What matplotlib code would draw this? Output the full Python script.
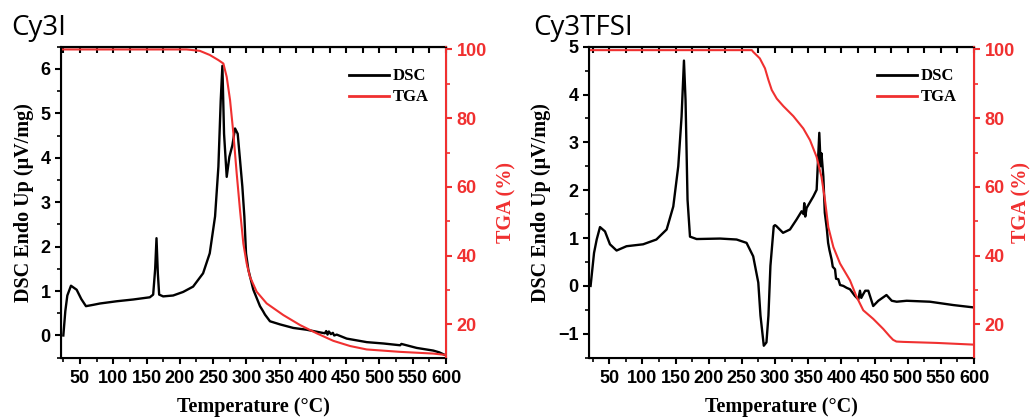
import matplotlib
matplotlib.use("Agg")
import matplotlib.pyplot as plt
from matplotlib.ticker import MultipleLocator
from matplotlib.font_manager import FontProperties

# Cy3I
t_dsc_i = [25, 28, 31, 36.5, 45, 52, 59, 70, 80, 105, 130, 155, 160, 163, 165, 167, 169,
           175, 190, 205, 220, 235, 245, 253, 258, 261.5, 264, 266.5, 270.5, 274.5, 279,
           283, 287, 290.5, 294, 297, 299.5, 303, 310.5, 320.5, 325, 328, 335.5, 350.5,
           370.5, 390.5, 410.5, 418, 420, 422, 424, 427, 430, 432, 435.8, 450.8, 481, 506,
           531, 533, 556, 581, 590, 600]
dsc_i = [0.0, 0.55, 0.9, 1.12, 1.03, 0.82, 0.66, 0.69, 0.72, 0.77, 0.81, 0.86, 0.92, 1.5,
         2.19, 1.4, 0.92, 0.88, 0.9, 0.98, 1.1, 1.4, 1.85, 2.68, 3.8, 5.29, 6.07, 4.54,
         3.57, 4.02, 4.28, 4.66, 4.54, 3.95, 3.35, 2.68, 1.85, 1.48, 1.03, 0.66, 0.55,
         0.47, 0.32, 0.25, 0.17, 0.13, 0.07, 0.05, 0.1, 0.02, 0.09, 0.03, 0.06, 0.0, 0.02,
         -0.07, -0.15, -0.18, -0.22, -0.19, -0.28, -0.34, -0.38, -0.45]
t_tga_i = [21.5, 210, 230, 245, 258, 265.5, 270.5, 275.5, 280.5, 285.5, 290.5, 295.5,
           300.5, 305.5, 315.5, 330.5, 355.6, 380.7, 405.7, 430.8, 455.8, 480.8, 531, 581, 600]
tga_i = [100, 100, 99.6, 98.4, 96.9, 95.9, 92, 85.3, 75.6, 63.9, 53.2, 43.5, 37.7, 33.8,
         29.5, 26.1, 22.7, 19.8, 17.4, 15.2, 13.7, 12.7, 12.0, 11.5, 11.1]

# Cy3TFSI
t_dsc_t = [21.8, 27, 31, 36, 43.5, 51, 61, 76, 101, 121, 136.5, 146.5, 154, 159, 162.6,
           165, 168, 171.7, 181.7, 217, 242, 257, 267, 274.7, 278, 283, 287, 290, 293,
           298, 300, 302, 312, 322.5, 332.5, 340, 343, 344, 345.5, 347.6, 357.7, 362.7,
           366.7, 368.8, 370, 372.8, 375, 378, 380, 382, 385.3, 387, 390.4, 392, 395.4,
           398, 403, 408, 413, 420.5, 425.6, 428, 430, 433, 436, 440.6, 448, 455.7, 468,
           476, 483.4, 498.5, 533.6, 568.9, 600]
dsc_t = [0.0, 0.69, 0.97, 1.23, 1.14, 0.87, 0.74, 0.83, 0.87, 0.97, 1.18, 1.66, 2.5,
         3.54, 4.71, 3.88, 1.8, 1.03, 0.98, 0.99, 0.97, 0.9, 0.62, 0.07, -0.62, -1.25,
         -1.18, -0.62, 0.42, 1.25, 1.27, 1.25, 1.11, 1.18, 1.39, 1.56, 1.5, 1.73, 1.45,
         1.63, 1.87, 2.01, 3.2, 2.5, 2.77, 2.29, 1.53, 1.2, 0.9, 0.75, 0.55, 0.4, 0.35,
         0.15, 0.14, 0.02, 0.0, -0.04, -0.07, -0.21, -0.28, -0.1, -0.25, -0.17, -0.1,
         -0.1, -0.42, -0.31, -0.19, -0.31, -0.33, -0.31, -0.33, -0.4, -0.45]
t_tga_t = [19.4, 265, 267, 277, 284.8, 290, 295, 302.5, 312.5, 327.5, 342.6, 352.7,
           362.7, 370, 375.3, 380.3, 387.9, 398, 413, 423, 433, 448, 463, 473, 478, 483,
           493.4, 543.7, 600]
tga_t = [99.8, 99.8, 99.3, 97.4, 94.5, 91.1, 88.2, 85.7, 83.5, 80.6, 77, 73.6, 68.7,
         62.9, 56.1, 48.3, 42.5, 37.7, 32.8, 28, 24.1, 21.6, 18.7, 16.5, 15.5, 15.0,
         14.9, 14.6, 14.1]

RED = "#f03030"
W, H = 1033, 419
fig = plt.figure(figsize=(W / 100, H / 100), dpi=100)

tick_fp = FontProperties(family="Liberation Sans", weight="bold", size=13)
label_font = {"family": "Liberation Serif", "weight": "bold", "size": 14.5}


def panel(left_px, xlim, ylim, title, title_x, tga_pad, t_d, d, t_g, g):
    ax = fig.add_axes([left_px / W, (H - 357.7) / H, 385 / W, 311 / H])
    ax.plot(t_d, d, color="black", lw=1.7, label="DSC")
    ax.set_xlim(*xlim)
    ax.set_ylim(*ylim)
    ax.xaxis.set_major_locator(MultipleLocator(50))
    ax.xaxis.set_minor_locator(MultipleLocator(25))
    ax.yaxis.set_major_locator(MultipleLocator(1))
    ax.yaxis.set_minor_locator(MultipleLocator(0.5))
    ax.tick_params(which="major", direction="out", length=4, width=1.5)
    ax.tick_params(which="minor", direction="out", length=3, width=1.2)
    ax.tick_params(axis="x", pad=5)
    for lab in ax.get_xticklabels() + ax.get_yticklabels():
        lab.set_fontproperties(tick_fp)
    for s in ["left", "bottom", "top"]:
        ax.spines[s].set_linewidth(1.5)
    ax.set_xlabel("Temperature (°C)", fontdict=label_font, labelpad=7)
    ax.set_ylabel("DSC Endo Up (μV/mg)", fontdict=label_font, labelpad=5)

    top = ax.secondary_xaxis("top")
    top.xaxis.set_major_locator(MultipleLocator(25))
    top.tick_params(direction="in", length=4, width=1.5, labeltop=False)
    top.spines["top"].set_linewidth(1.5)

    ax2 = ax.twinx()
    ax2.plot(t_g, g, color=RED, lw=1.5, label="TGA")
    ax2.set_ylim(10.3, 100.8)
    ax2.yaxis.set_major_locator(MultipleLocator(20))
    ax2.yaxis.set_minor_locator(MultipleLocator(10))
    ax2.tick_params(which="major", direction="out", length=4, width=1.5, colors=RED)
    ax2.tick_params(which="minor", direction="out", length=3, width=1.2, colors=RED)
    for lab in ax2.get_yticklabels():
        lab.set_fontproperties(tick_fp)
    ax2.spines["right"].set_color(RED)
    ax2.spines["right"].set_linewidth(1.5)
    ax2.set_ylabel("TGA (%)", fontdict=label_font, color=RED, labelpad=tga_pad)

    h1, l1 = ax.get_legend_handles_labels()
    h2, l2 = ax2.get_legend_handles_labels()
    leg = ax2.legend(h1 + h2, l1 + l2, loc="upper right", bbox_to_anchor=(0.955, 0.93),
                     frameon=False, borderaxespad=0, borderpad=0, handlelength=2.4,
                     handletextpad=0.2, labelspacing=0.3,
                     prop={"family": "Liberation Serif", "weight": "bold", "size": 12})
    for ln in leg.get_lines():
        ln.set_linewidth(2)

    fig.text(title_x / W, 1 - 35 / H, title, family="Open Sans", size=20,
             ha="left", va="baseline")


panel(61, (21.5, 600), (-0.5, 6.5), "Cy3I", 11, 7,
      t_dsc_i, dsc_i, t_tga_i, tga_i)
panel(589, (19.4, 600), (-1.5, 5), "Cy3TFSI", 533, -2,
      t_dsc_t, dsc_t, t_tga_t, tga_t)

fig.savefig("out.png", dpi=100)
